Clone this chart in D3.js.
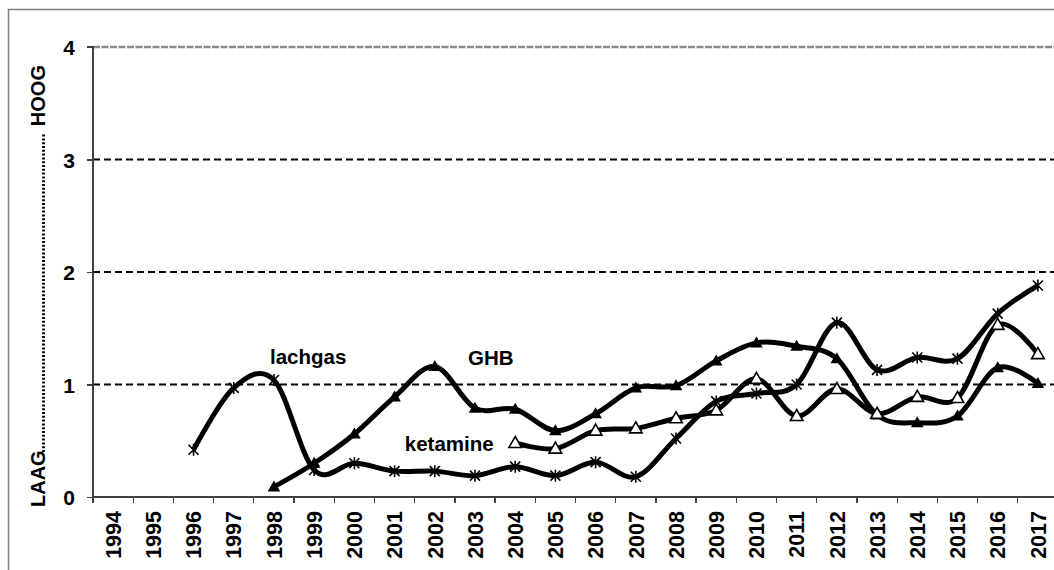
<!DOCTYPE html>
<html lang="nl">
<head>
<meta charset="UTF-8">
<title>LAAG - HOOG trend</title>
<script src="https://d3js.org/d3.v7.min.js"></script>
<style>
  html, body { margin: 0; padding: 0; background: #fff; }
  svg { display: block; }
  .axis path, .axis line { stroke: #404040; stroke-width: 1.3px; shape-rendering: crispEdges; }
  .grid { stroke: #000; stroke-width: 2px; stroke-dasharray: 7,4; }
  .serie { fill: none; stroke: #000; stroke-width: 5px; stroke-linejoin: round; }
</style>
</head>
<body>
<div id="chart"></div>
<script>
// jaren op de x-as
const years = ["1994","1995","1996","1997","1998","1999","2000","2001","2002","2003","2004","2005",
               "2006","2007","2008","2009","2010","2011","2012","2013","2014","2015","2016","2017"];

// waarden per jaar (null = geen meting)
const lachgas  = [null, null, 0.42, 0.97, 1.04, 0.24, 0.30, 0.23, 0.23, 0.19, 0.27, 0.19,
                  0.31, 0.18, 0.52, 0.85, 0.92, 1.00, 1.55, 1.13, 1.24, 1.23, 1.63, 1.88];
const ghb      = [null, null, null, null, 0.09, 0.30, 0.56, 0.89, 1.16, 0.79, 0.78, 0.59,
                  0.74, 0.97, 0.99, 1.21, 1.37, 1.34, 1.23, 0.73, 0.66, 0.72, 1.15, 1.01];
const ketamine = [null, null, null, null, null, null, null, null, null, null, 0.48, 0.43,
                  0.59, 0.61, 0.70, 0.77, 1.05, 0.72, 0.96, 0.74, 0.89, 0.88, 1.53, 1.27];

const yTicks = [0, 1, 2, 3, 4];

const FONT = "'Liberation Sans', Arial, sans-serif";
const W = 1054, H = 570;
const svg = d3.select("#chart").append("svg")
    .attr("width", W).attr("height", H)
    .attr("font-family", FONT);

const x = d3.scaleBand().domain(years).range([93, 1058]).paddingInner(0).paddingOuter(0);
const y = d3.scaleLinear().domain([0, 4]).range([497, 47]);
const cx = d => x(d) + x.bandwidth() / 2;

// buitenkader
svg.append("rect")
    .attr("x", 8.5).attr("y", 9.5)
    .attr("width", W + 20).attr("height", H + 20)
    .attr("fill", "none").attr("stroke", "#808080").attr("stroke-width", 1.5);

// horizontale hulplijnen
svg.selectAll(".grid")
    .data(yTicks.filter(v => v > 0 && v < 4))
    .enter().append("line")
    .attr("class", "grid")
    .attr("x1", 93).attr("x2", 1058)
    .attr("y1", d => y(d)).attr("y2", d => y(d));

svg.append("line")
    .attr("x1", 93).attr("x2", 1058)
    .attr("y1", y(4)).attr("y2", y(4))
    .attr("stroke", "#8a8a8a").attr("stroke-width", 2.5)
    .attr("stroke-dasharray", "7,1.5");

// y-as
const yAxis = svg.append("g")
    .attr("class", "axis")
    .attr("transform", "translate(93,0)")
    .call(d3.axisLeft(y).tickValues(yTicks).tickSize(6).tickPadding(12).tickFormat(d3.format("d")));
yAxis.attr("font-family", FONT).attr("font-size", 21);
yAxis.select(".domain").attr("d", `M-6,${y(4)}H0V${y(0)}`);
yAxis.selectAll(".tick text")
    .attr("font-weight", "bold").attr("fill", "#000").attr("dy", "0.36em");

// x-as
const xAxis = svg.append("g")
    .attr("class", "axis")
    .attr("transform", `translate(0,${y(0)})`)
    .call(d3.axisBottom(x).tickSize(0).tickPadding(0));
xAxis.attr("font-family", FONT).attr("font-size", 21.5);
xAxis.select(".domain").attr("d", `M93,0H1058`);
xAxis.selectAll(".tick text")
    .attr("font-weight", "bold").attr("fill", "#000")
    .attr("text-anchor", "end")
    .attr("transform", "translate(0,14) rotate(-90)")
    .attr("x", 0).attr("y", 0)
    .attr("dy", "0.36em");
xAxis.selectAll(".tickmark")
    .data(years)
    .enter().append("line")
    .attr("class", "tickmark")
    .attr("x1", d => x(d)).attr("x2", d => x(d))
    .attr("y1", 0).attr("y2", 6)
    .attr("stroke", "#404040").attr("stroke-width", 1.3);

// y-as titel: LAAG ...... HOOG
const yt = svg.append("g").attr("transform", "translate(45,0)")
    .attr("font-size", 20).attr("font-weight", "bold");
yt.append("text")
    .attr("transform", "translate(0,507) rotate(-90)")
    .attr("text-anchor", "start")
    .text("LAAG");
yt.append("text")
    .attr("transform", "translate(0,65) rotate(-90)")
    .attr("text-anchor", "end")
    .text("HOOG");
yt.append("line")
    .attr("x1", -1.5).attr("x2", -1.5)
    .attr("y1", 452).attr("y2", 133)
    .attr("stroke", "#000").attr("stroke-width", 2.8)
    .attr("stroke-dasharray", "2,1.8");

// lijnen
const line = d3.line()
    .defined(d => d.v != null)
    .x(d => cx(d.year))
    .y(d => y(d.v))
    .curve(d3.curveCardinal.tension(0));

const toPoints = arr => years.map((yr, i) => ({ year: yr, v: arr[i] }));

const series = [
    { name: "lachgas", values: lachgas, marker: "star" },
    { name: "GHB", values: ghb, marker: "filled" },
    { name: "ketamine", values: ketamine, marker: "open" }
];

series.forEach(s => {
    svg.append("path")
        .datum(toPoints(s.values).filter(d => d.v != null))
        .attr("class", "serie")
        .attr("d", line);
});

// markers
const tri = "M0,-6.5L6.3,4.5L-6.3,4.5Z";
series.forEach(s => {
    const pts = toPoints(s.values).filter(d => d.v != null);
    const g = svg.selectAll(null).data(pts).enter().append("g")
        .attr("transform", d => `translate(${cx(d.year)},${y(d.v)})`);
    if (s.marker === "star") {
        g.append("path")
            .attr("d", "M-5,-5L5,5M-5,5L5,-5M0,-6L0,6")
            .attr("stroke", "#000").attr("stroke-width", 1.6).attr("fill", "none");
    } else if (s.marker === "filled") {
        g.append("path").attr("d", tri).attr("fill", "#000");
    } else {
        g.append("path").attr("d", tri)
            .attr("fill", "#fff").attr("stroke", "#000").attr("stroke-width", 1.6);
    }
});

// reekslabels
const labels = [
    { text: "lachgas", year: "1998", dx: -4, v: 1.18 },
    { text: "GHB", year: "2003", dx: -7, v: 1.17 },
    { text: "ketamine", year: "2002", dx: -30, v: 0.41 }
];
svg.selectAll(".label")
    .data(labels)
    .enter().append("text")
    .attr("class", "label")
    .attr("font-size", 20.5).attr("font-weight", "bold")
    .attr("x", d => cx(d.year) + d.dx)
    .attr("y", d => y(d.v))
    .text(d => d.text);
</script>
</body>
</html>
